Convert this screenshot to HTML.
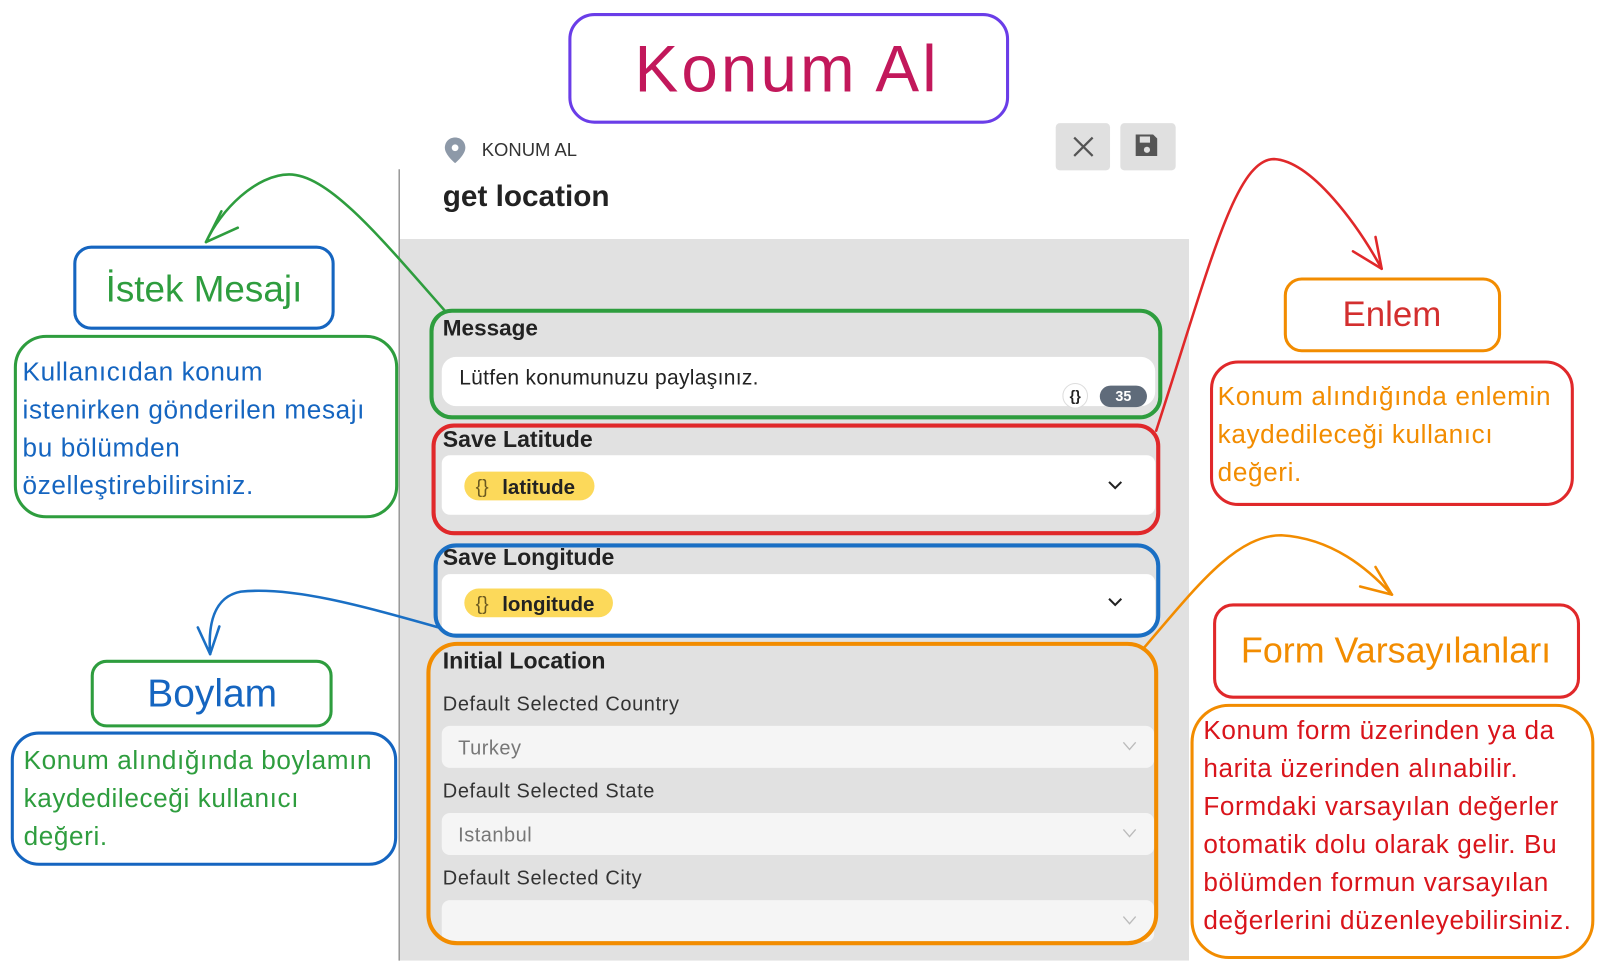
<!DOCTYPE html>
<html><head><meta charset="utf-8"><style>
html,body{margin:0;padding:0;background:#fff;width:1600px;height:970px;overflow:hidden}
svg{display:block}
.ui{font-family:"Liberation Sans",sans-serif}
.hand{font-family:"Liberation Sans",sans-serif}
.d{font-family:"Liberation Sans",sans-serif;font-size:25.5px;letter-spacing:0.6px}
</style></head><body>
<svg width="1600" height="970" viewBox="0 0 1561 946" xmlns="http://www.w3.org/2000/svg">
<rect width="1561" height="946" fill="#fff"/>
<!-- panel -->
<rect x="390" y="233" width="770" height="704" fill="#e1e1e1"/>
<line x1="389.5" y1="165" x2="389.5" y2="937" stroke="#9a9a9a" stroke-width="1.5"/>
<path d="M444,134 c-6,0 -10,4.5 -10,10 c0,7 10,15 10,15 c0,0 10,-8 10,-15 c0,-5.5 -4,-10 -10,-10z" fill="#8d99a8"/>
<circle cx="444" cy="144" r="3.3" fill="#fff"/>
<text x="470" y="152" class="ui" font-size="18" fill="#333">KONUM AL</text>
<text x="432" y="201" class="ui" font-size="29" font-weight="bold" fill="#222">get location</text>
<rect x="1030" y="120" width="53" height="46" rx="4" fill="#e0e0e0"/>
<path d="M1048,134 l18,18 M1066,134 l-18,18" stroke="#555" stroke-width="2.2"/>
<rect x="1093" y="120" width="54" height="46" rx="4" fill="#e0e0e0"/>
<path d="M1108,131 h17 l4,4 v17 h-21 z" fill="#555"/>
<rect x="1112" y="133" width="10" height="6" fill="#e0e0e0"/>
<circle cx="1119" cy="146" r="3" fill="#e0e0e0"/>

<!-- Message -->
<text x="432" y="327" class="ui" font-size="22" font-weight="bold" fill="#222">Message</text>
<rect x="431" y="348" width="696" height="48" rx="14" fill="#fff"/>
<text x="448" y="375" class="ui" font-size="20.5" fill="#222" letter-spacing="0.3">Lütfen konumunuzu paylaşınız.</text>
<circle cx="1049" cy="386" r="12" fill="#fff" stroke="#ddd"/>
<text x="1049" y="391" class="ui" font-size="14" font-weight="bold" text-anchor="middle" fill="#222">{}</text>
<rect x="1073" y="376" width="46" height="21" rx="10.5" fill="#5f6b7a"/>
<text x="1096" y="391" class="ui" font-size="14" font-weight="bold" text-anchor="middle" fill="#fff">35</text>
<rect x="421" y="303" width="711" height="104" rx="20" fill="none" stroke="#2e9d3e" stroke-width="4"/>

<!-- Save Latitude -->
<text x="432" y="436" class="ui" font-size="22.5" font-weight="bold" fill="#222">Save Latitude</text>
<rect x="431" y="444" width="696" height="58" rx="8" fill="#fff"/>
<rect x="453" y="460" width="127" height="28" rx="14" fill="#fcd95a"/>
<text x="464" y="481" class="ui" font-size="19" fill="#6b5a20">{}</text>
<text x="490" y="482" class="ui" font-size="20" font-weight="bold" fill="#222">latitude</text>
<path d="M1082,470 l6,6 l6,-6" fill="none" stroke="#222" stroke-width="2"/>
<rect x="423" y="415" width="707" height="105" rx="20" fill="none" stroke="#e0282a" stroke-width="4"/>

<!-- Save Longitude -->
<text x="432" y="551" class="ui" font-size="22.5" font-weight="bold" fill="#222">Save Longitude</text>
<rect x="431" y="560" width="696" height="58" rx="8" fill="#fff"/>
<rect x="453" y="574" width="145" height="28" rx="14" fill="#fcd95a"/>
<text x="464" y="595" class="ui" font-size="19" fill="#6b5a20">{}</text>
<text x="490" y="596" class="ui" font-size="20" font-weight="bold" fill="#222">longitude</text>
<path d="M1082,584 l6,6 l6,-6" fill="none" stroke="#222" stroke-width="2"/>
<rect x="425" y="532" width="705" height="88" rx="20" fill="none" stroke="#1a6fc4" stroke-width="4"/>

<!-- Initial Location -->
<text x="432" y="652" class="ui" font-size="22.5" font-weight="bold" fill="#222">Initial Location</text>
<text x="432" y="693" class="ui" font-size="19.5" fill="#333" letter-spacing="0.6">Default Selected Country</text>
<rect x="431" y="708" width="695" height="41" rx="8" fill="#f5f5f5"/>
<text x="447" y="736" class="ui" font-size="19.5" fill="#777" letter-spacing="0.5">Turkey</text>
<path d="M1096,724 l6,7 l6,-7" fill="none" stroke="#bbb" stroke-width="1.3"/>
<text x="432" y="778" class="ui" font-size="19.5" fill="#333" letter-spacing="0.6">Default Selected State</text>
<rect x="431" y="793" width="695" height="41" rx="8" fill="#f5f5f5"/>
<text x="447" y="821" class="ui" font-size="19.5" fill="#777" letter-spacing="0.5">Istanbul</text>
<path d="M1096,809 l6,7 l6,-7" fill="none" stroke="#bbb" stroke-width="1.3"/>
<text x="432" y="863" class="ui" font-size="19.5" fill="#333" letter-spacing="0.6">Default Selected City</text>
<rect x="431" y="878" width="695" height="41" rx="8" fill="#f5f5f5"/>
<path d="M1096,894 l6,7 l6,-7" fill="none" stroke="#bbb" stroke-width="1.3"/>
<rect x="418" y="628" width="710" height="292" rx="28" fill="none" stroke="#f28c00" stroke-width="4"/>

<!-- Title -->
<rect x="556" y="14" width="427" height="105" rx="24" fill="#fff" stroke="#6a3de8" stroke-width="3"/>
<text x="768" y="89" class="hand" font-size="64" text-anchor="middle" fill="#c2185b" letter-spacing="3">Konum Al</text>

<!-- left top -->
<rect x="73" y="241" width="252" height="79" rx="16" fill="#fff" stroke="#1565c0" stroke-width="3"/>
<text x="199" y="294" class="hand" font-size="36" text-anchor="middle" fill="#2e9d3e">İstek Mesajı</text>
<rect x="15" y="328" width="372" height="176" rx="30" fill="#fff" stroke="#2e9d3e" stroke-width="3"/>
<g class="d" fill="#1565c0">
<text x="22" y="371">Kullanıcıdan konum</text>
<text x="22" y="408">istenirken gönderilen mesajı</text>
<text x="22" y="445">bu bölümden</text>
<text x="22" y="482">özelleştirebilirsiniz.</text>
</g>

<!-- left bottom -->
<rect x="90" y="645" width="233" height="63" rx="14" fill="#fff" stroke="#2e9d3e" stroke-width="3"/>
<text x="207" y="689" class="hand" font-size="38" text-anchor="middle" fill="#1565c0">Boylam</text>
<rect x="12" y="715" width="374" height="128" rx="26" fill="#fff" stroke="#1565c0" stroke-width="3"/>
<g class="d" fill="#2e9d3e">
<text x="23" y="750">Konum alındığında boylamın</text>
<text x="23" y="787">kaydedileceği kullanıcı</text>
<text x="23" y="824">değeri.</text>
</g>

<!-- right top -->
<rect x="1254" y="272" width="209" height="70" rx="16" fill="#fff" stroke="#f28c00" stroke-width="3"/>
<text x="1358" y="318" class="hand" font-size="34" text-anchor="middle" fill="#d32f2f">Enlem</text>
<rect x="1182" y="353" width="352" height="139" rx="26" fill="#fff" stroke="#e0282a" stroke-width="3"/>
<g class="d" fill="#f28c00">
<text x="1188" y="395">Konum alındığında enlemin</text>
<text x="1188" y="432">kaydedileceği kullanıcı</text>
<text x="1188" y="469">değeri.</text>
</g>

<!-- right bottom -->
<rect x="1185" y="590" width="355" height="90" rx="18" fill="#fff" stroke="#e0282a" stroke-width="3"/>
<text x="1362" y="646" class="hand" font-size="35" text-anchor="middle" fill="#f28c00">Form Varsayılanları</text>
<rect x="1163" y="688" width="391" height="246" rx="36" fill="#fff" stroke="#f28c00" stroke-width="3"/>
<g class="d" fill="#d9141b">
<text x="1174" y="721">Konum form üzerinden ya da</text>
<text x="1174" y="758">harita üzerinden alınabilir.</text>
<text x="1174" y="795">Formdaki varsayılan değerler</text>
<text x="1174" y="832">otomatik dolu olarak gelir. Bu</text>
<text x="1174" y="869">bölümden formun varsayılan</text>
<text x="1174" y="906">değerlerini düzenleyebilirsiniz.</text>
</g>

<!-- connectors -->
<g fill="none" stroke-width="2.5" stroke-linecap="round">
<path d="M434,303 C370,230 320,170 282,170 C250,170 215,205 201,236" stroke="#2e9d3e"/>
<path d="M201,236 L216,206 M201,236 L232,222" stroke="#2e9d3e"/>
<path d="M1128,420 C1180,260 1205,155 1243,155 C1280,157 1325,220 1348,262" stroke="#e0282a"/>
<path d="M1348,262 L1320,245 M1348,262 L1342,231" stroke="#e0282a"/>
<path d="M428,612 C350,590 285,572 235,577 C208,582 203,610 205,638" stroke="#1a6fc4"/>
<path d="M205,638 L193,612 M205,638 L214,611" stroke="#1a6fc4"/>
<path d="M1116,632 C1165,575 1205,522 1250,522 C1300,525 1335,555 1358,580" stroke="#f28c00"/>
<path d="M1358,580 L1327,572 M1358,580 L1342,553" stroke="#f28c00"/>
</g>
</svg>
</body></html>
